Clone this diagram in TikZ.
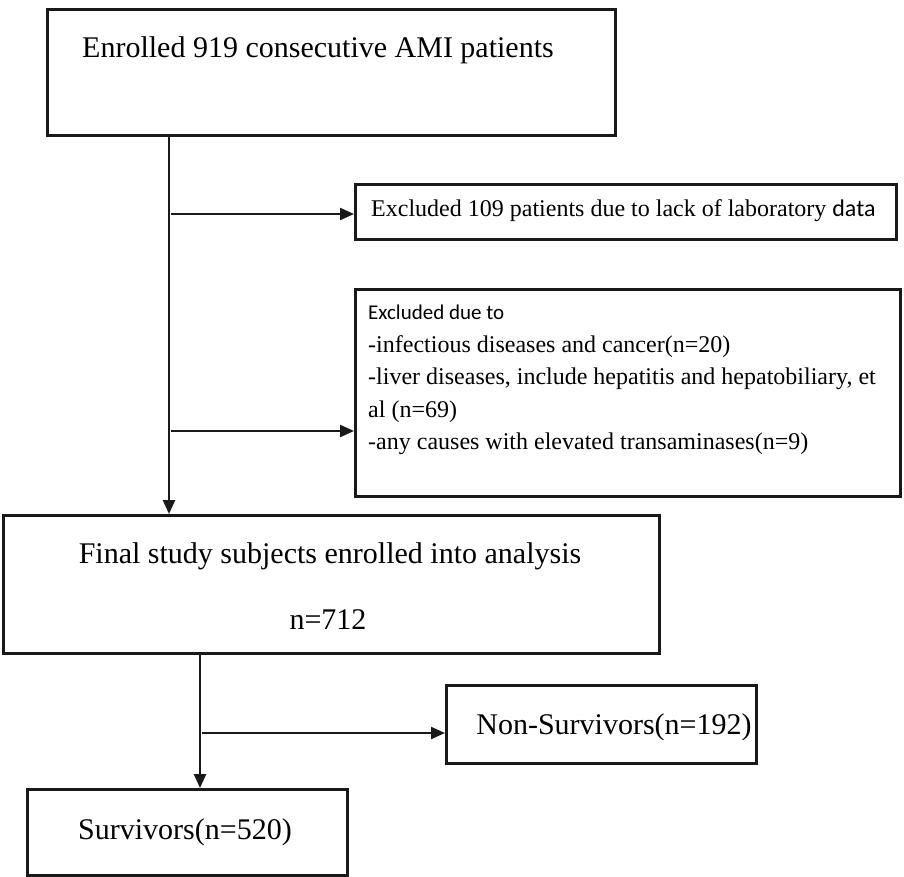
\documentclass[tikz,border=0pt]{standalone}
\usepackage{fontspec}
\setmainfont{Liberation Serif}
\newfontfamily\calfont{Carlito}
\usetikzlibrary{arrows.meta,positioning}
\tikzset{
  box/.style={draw=black!90, line width=3pt, anchor=north west, inner sep=0pt},
  arr/.style={draw=black!90, line width=2.2pt, -{Triangle[length=14pt,width=12pt]}},
  vline/.style={draw=black!90, line width=2.6pt, -{Triangle[length=14pt,width=12pt]}},
  big/.style={font=\fontsize{30}{34}\selectfont, inner sep=0pt},
  mid/.style={font=\fontsize{24}{32.5}\selectfont, inner sep=0pt},
}
\begin{document}
\begin{tikzpicture}[x=1pt,y=-1pt]
\useasboundingbox (0,0) rectangle (904,876);
% boxes
\node[box, minimum width=568pt, minimum height=126pt] (b1) at (46,8) {};
\node[box, minimum width=541pt, minimum height=55pt] (b2) at (354,183) {};
\node[box, minimum width=545pt, minimum height=207pt] (b3) at (354,288) {};
\node[box, minimum width=656pt, minimum height=138pt] (b4) at (2,514) {};
\node[box, minimum width=310pt, minimum height=78pt] (b5) at (445,684) {};
\node[box, minimum width=320pt, minimum height=86pt] (b6) at (26,788) {};
% texts
\node[big] (t1) at (318,50) {Enrolled 919 consecutive AMI patients};
\node[mid, anchor=west] (t2) at (371,211) {Excluded 109 patients due to lack of laboratory {\calfont data}};
\node[mid, anchor=north west, align=left] (t3) at (368,305) {{\calfont\fontsize{21}{32.5}\selectfont Excluded due to}\\
-infectious diseases and cancer(n=20)\\
-liver diseases, include hepatitis and hepatobiliary, et\\
al (n=69)\\
-any causes with elevated transaminases(n=9)};
\node[big] (t4a) at (330,556) {Final study subjects enrolled into analysis};
\node[big] (t4b) at (328,620) {n=712};
\node[big] (t5) at (614,727) {Non-Survivors(n=192)};
\node[big] (t6) at (185,832) {Survivors(n=520)};
% connectors
\coordinate (v1) at (169,134);
\coordinate (j1) at (171,214);
\coordinate (j2) at (171,431);
\draw[vline] (v1) -- (v1 |- b4.north);
\draw[arr] (j1) -- (j1 -| b2.west);
\draw[arr] (j2) -- (j2 -| b3.west);
\coordinate (v2) at (200,652);
\coordinate (j3) at (202,733);
\draw[vline] (v2) -- (v2 |- b6.north);
\draw[arr] (j3) -- (j3 -| b5.west);
\end{tikzpicture}
\end{document}
